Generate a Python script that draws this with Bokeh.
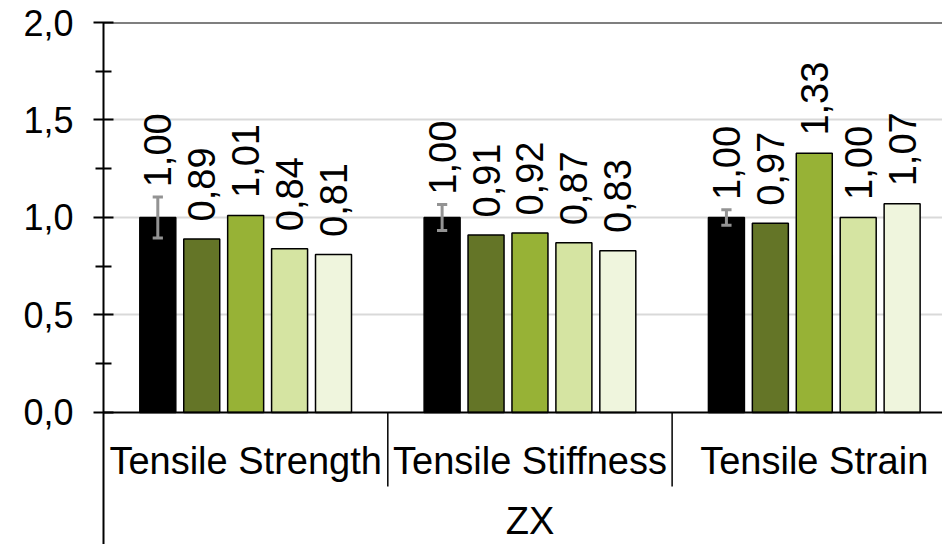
import math

from bokeh.core.properties import value
from bokeh.embed import file_html
from bokeh.models import ColumnDataSource, CustomJSTickFormatter, FixedTicker, Range1d, Span
from bokeh.plotting import figure
from bokeh.resources import INLINE

# ---- data -------------------------------------------------------------
categories = ["Tensile Strength", "Tensile Stiffness", "Tensile Strain"]
group_label = "ZX"

reference = [1.00, 1.00, 1.00]
reference_err = [0.105, 0.067, 0.04]
variant_a = [0.89, 0.91, 0.97]
variant_b = [1.01, 0.92, 1.33]
variant_c = [0.84, 0.87, 1.00]
variant_d = [0.81, 0.83, 1.07]

y_ticks = [0.0, 0.5, 1.0, 1.5, 2.0]
y_minor_ticks = [0.25, 0.75, 1.25, 1.75]
y_grid_ticks = [0.5, 1.0, 1.5]

# ---- styling ----------------------------------------------------------
FONT = "Liberation Sans"
series = [reference, variant_a, variant_b, variant_c, variant_d]
errors = [reference_err, None, None, None, None]
colors = ["#000000", "#647527", "#97b236", "#d5e4a2", "#eff5dd"]
pitch = 0.1545      # distance between neighbouring bars inside a group
bar_w = 0.1266      # bar width in x units
label_pad = 0.09    # gap between bar top and its value label
err_pad = 0.05      # gap between error-bar cap and the label above it

p = figure(
    width=942, height=544,
    x_range=Range1d(0, 2.951), y_range=Range1d(-0.677, 2.0),
    output_backend="svg", toolbar_location=None,
    x_axis_location=None,
    min_border_left=103, min_border_right=0,
    min_border_top=22, min_border_bottom=0,
)
p.outline_line_color = None
p.background_fill_color = "white"
p.border_fill_color = "white"

# horizontal grid
p.xgrid.visible = False
p.ygrid.ticker = FixedTicker(ticks=y_grid_ticks)
p.ygrid.grid_line_color = "#d9d9d9"
p.ygrid.grid_line_width = 2

# value axis
ax = p.yaxis[0]
ax.ticker = FixedTicker(ticks=y_ticks, minor_ticks=y_minor_ticks)
ax.formatter = CustomJSTickFormatter(code="return tick.toFixed(1).replace('.', ',');")
ax.axis_line_color = "black"
ax.axis_line_width = 2
ax.major_tick_line_color = "black"
ax.major_tick_line_width = 2
ax.major_tick_in = 10
ax.major_tick_out = 10
ax.minor_tick_line_color = "black"
ax.minor_tick_line_width = 2
ax.minor_tick_in = 8
ax.minor_tick_out = 8
ax.major_label_text_font = FONT
ax.major_label_text_font_size = "36px"
ax.major_label_text_color = "black"
ax.major_label_standoff = 20

# baseline and top line
p.add_layout(Span(location=0, dimension="width", line_color="black", line_width=2))
p.add_layout(Span(location=2.0, dimension="width", line_color="black", line_width=2))

# bars, error bars and value labels
for k, (vals, errs, color) in enumerate(zip(series, errors, colors)):
    xs = [g + 0.5 + (k - 2) * pitch for g in range(len(categories))]
    src = ColumnDataSource(dict(x=xs, top=vals))
    p.vbar(x="x", top="top", width=bar_w, bottom=0, source=src,
           fill_color=color, line_color="black", line_width=1.5)

    label_y = []
    for i, v in enumerate(vals):
        y = v + label_pad
        if errs is not None:
            y = max(y, v + errs[i] + err_pad)
        label_y.append(y)

    if errs is not None:
        lo = [v - e for v, e in zip(vals, errs)]
        hi = [v + e for v, e in zip(vals, errs)]
        cap = 0.018
        p.segment(x0=xs, y0=lo, x1=xs, y1=hi, line_color="#939393", line_width=3)
        p.segment(x0=[x - cap for x in xs], y0=hi, x1=[x + cap for x in xs], y1=hi,
                  line_color="#939393", line_width=3)
        p.segment(x0=[x - cap for x in xs], y0=lo, x1=[x + cap for x in xs], y1=lo,
                  line_color="#939393", line_width=3)

    p.text(x=xs, y=label_y, text=[f"{v:.2f}".replace(".", ",") for v in vals],
           angle=math.pi / 2, text_align="left", text_baseline="middle",
           text_font=value(FONT), text_font_size="38px", text_color="black")

# category axis below the baseline
n = len(categories)
p.segment(x0=list(range(1, n)), y0=[0] * (n - 1), x1=list(range(1, n)), y1=[-0.38] * (n - 1),
          line_color="black", line_width=1.5)
p.text(x=[g + 0.5 for g in range(n)], y=[-0.249] * n, text=categories,
       text_align="center", text_baseline="alphabetic",
       text_font=value(FONT), text_font_size="38px", text_color="black")
p.text(x=[n / 2], y=[-0.558], text=[group_label],
       text_align="center", text_baseline="alphabetic",
       text_font=value(FONT), text_font_size="38px", text_color="black")

open("out.html", "w").write(file_html(p, INLINE))
